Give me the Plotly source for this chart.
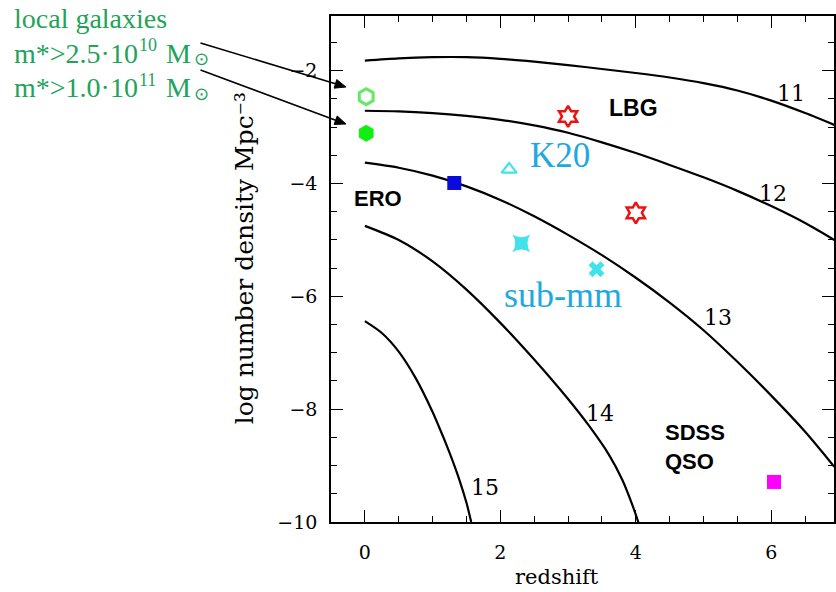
import math
import plotly.graph_objects as go

# Halo-mass abundance curves: log number density vs redshift, labelled by log M
curve_11_z = [0, 0.5, 1.0, 1.5, 2.0, 2.5, 3.0, 3.5, 4.0, 4.5, 5.0, 5.5, 6.0, 6.5, 6.93]
curve_11_n = [-1.82, -1.78, -1.76, -1.76, -1.79, -1.84, -1.90, -1.97, -2.04, -2.12, -2.22, -2.35, -2.53, -2.75, -2.96]

curve_12_z = [0, 0.5, 1.0, 1.5, 2.0, 2.5, 3.0, 3.5, 4.0, 4.5, 5.0, 5.5, 6.0, 6.5, 6.93]
curve_12_n = [-2.71, -2.72, -2.75, -2.80, -2.87, -2.97, -3.10, -3.27, -3.46, -3.67, -3.89, -4.13, -4.40, -4.70, -5.00]

curve_13_z = [0, 0.5, 1.0, 1.5, 2.0, 2.5, 3.0, 3.5, 4.0, 4.5, 5.0, 5.5, 6.0, 6.5, 6.93]
curve_13_n = [-3.63, -3.72, -3.86, -4.05, -4.29, -4.58, -4.91, -5.27, -5.67, -6.11, -6.60, -7.16, -7.76, -8.40, -9.02]

curve_14_z = [0, 0.5, 1.0, 1.5, 2.0, 2.5, 3.0, 3.3, 3.6, 3.8, 3.95, 4.05]
curve_14_n = [-4.75, -5.00, -5.38, -5.88, -6.47, -7.12, -7.82, -8.28, -8.80, -9.25, -9.70, -10.05]

curve_15_z = [0, 0.25, 0.5, 0.75, 1.0, 1.1, 1.2, 1.3, 1.4, 1.5, 1.57]
curve_15_n = [-6.44, -6.65, -6.98, -7.45, -8.05, -8.33, -8.62, -8.93, -9.27, -9.66, -10.0]

curve_labels = ["11", "12", "13", "14", "15"]
curve_label_z = [6.29, 6.03, 5.21, 3.47, 1.78]
curve_label_n = [-2.41, -4.17, -6.38, -8.07, -9.38]

# Observed populations
local_25_z, local_25_n = [0.02], [-2.46]     # local galaxies m* > 2.5e10
local_100_z, local_100_n = [0.02], [-3.11]   # local galaxies m* > 1.0e11
lbg_z, lbg_n = [3.0, 4.0], [-2.81, -4.52]
k20_z, k20_n = [2.13], [-3.75]
ero_z, ero_n = [1.32], [-3.99]
submm_a_z, submm_a_n = [2.31], [-5.06]
submm_b_z, submm_b_n = [3.42], [-5.52]
qso_z, qso_n = [6.04], [-9.29]

x_ticks = [0, 2, 4, 6]
y_ticks = [-10, -8, -6, -4, -2]

# stellar-mass thresholds of the local samples: mantissa and power of ten
mass_mantissa = ["2.5", "1.0"]
mass_exponent = ["10", "11"]

SERIF = "DejaVu Serif"
SANS = "Liberation Sans"
TIMES = "Liberation Serif"
GREEN_TXT = "#22A35A"
CYAN_TXT = "#22A8E0"
CYAN = "#40E2EC"

fig = go.Figure()

for zs, ns in [(curve_11_z, curve_11_n), (curve_12_z, curve_12_n), (curve_13_z, curve_13_n),
               (curve_14_z, curve_14_n), (curve_15_z, curve_15_n)]:
    fig.add_trace(go.Scatter(x=zs, y=ns, mode="lines",
                             line=dict(color="black", width=2.2, shape="spline", smoothing=0.8),
                             showlegend=False, hoverinfo="skip"))

def pts(x, y, symbol, size, color, lw=0, lc=None):
    fig.add_trace(go.Scatter(x=x, y=y, mode="markers", showlegend=False, cliponaxis=False,
                             marker=dict(symbol=symbol, size=size, color=color,
                                         line=dict(width=lw, color=lc or color))))

pts(local_25_z, local_25_n, "hexagon-open", 16, "#66E866", 3)
pts(local_100_z, local_100_n, "hexagon", 17, "#11EE11")
pts(lbg_z, lbg_n, "hexagram-open", 16, "#EE1111", 2.5)
pts(k20_z, k20_n, "triangle-up-open", 13, CYAN, 2.2)
pts(ero_z, ero_n, "square", 14, "#0A0ADD")
pts(submm_a_z, submm_a_n, "star-square", 16, CYAN)
pts(submm_b_z, submm_b_n, "x", 14, CYAN)
pts(qso_z, qso_n, "square", 14, "#FF00FF")

# plot-area pixel geometry, used to place items outside the axes in paper units
PX_LEFT, PX_W, PX_BOTTOM, PX_H = 331, 505, 522, 506

def paper_x(px):
    return (px - PX_LEFT) / PX_W

def paper_y(py):
    return (PX_BOTTOM - py) / PX_H

ann = []
for t, zx, ny in zip(curve_labels, curve_label_z, curve_label_n):
    ann.append(dict(x=zx, y=ny, text=t, showarrow=False,
                    font=dict(family=SERIF, size=22, color="black")))

bold_black = dict(family=SANS, size=22, color="black", weight="bold")
ann += [
    dict(x=3.96, y=-2.66, text="LBG", showarrow=False, font={**bold_black, "size": 23}),
    dict(x=0.19, y=-4.26, text="ERO", showarrow=False, font=bold_black),
    dict(x=4.40, y=-8.42, text="SDSS", showarrow=False, xanchor="left", font=bold_black),
    dict(x=4.40, y=-8.92, text="QSO", showarrow=False, xanchor="left", font=bold_black),
    dict(x=2.88, y=-3.51, text="K20", showarrow=False,
         font=dict(family=TIMES, size=35, color=CYAN_TXT)),
    dict(x=2.93, y=-5.98, text="sub-mm", showarrow=False,
         font=dict(family=TIMES, size=36, color=CYAN_TXT)),
]

def green_text(px, py, txt, size=28):
    ann.append(dict(x=paper_x(px), y=paper_y(py), xref="paper", yref="paper", text=txt,
                    showarrow=False, xanchor="left", yanchor="middle", borderpad=0,
                    font=dict(family=TIMES, size=size, color=GREEN_TXT)))

# local-galaxy legend, top left outside the axes
green_text(12, 19, "local galaxies")
for mant, expo, py in zip(mass_mantissa, mass_exponent, [53, 88]):
    green_text(12, py, "m*>" + mant + "·10")
    green_text(137, py - 8, expo, size=18)      # power of ten, raised
    green_text(164, py, "M")
    green_text(192, py + 6, "⊙", size=18)       # solar symbol, lowered

# axis titles
ann.append(dict(x=paper_x(244), y=paper_y(258), xref="paper", yref="paper",
                text="log number density Mpc⁻³", textangle=-90, showarrow=False,
                xanchor="center", yanchor="middle",
                font=dict(family=SERIF, size=25, color="black")))
ann.append(dict(x=paper_x(558), y=paper_y(577), xref="paper", yref="paper",
                text="redshift", showarrow=False, xanchor="center", yanchor="middle",
                font=dict(family=SERIF, size=21, color="black")))

# pointer arrows from the legend lines to the local-galaxy symbols
shapes = []
arrows_px = [((200, 43), (346, 87)), ((200, 70), (346, 124))]
for (tx, ty), (hx, hy) in arrows_px:
    dx, dy = hx - tx, hy - ty
    L = math.hypot(dx, dy)
    ux, uy = dx / L, dy / L
    head_len, head_half = 11, 4.5
    bx, by = hx - head_len * ux, hy - head_len * uy
    shapes.append(dict(type="line", xref="paper", yref="paper",
                       x0=paper_x(tx), y0=paper_y(ty), x1=paper_x(bx), y1=paper_y(by),
                       line=dict(color="black", width=1.6)))
    c1 = (bx - head_half * uy, by + head_half * ux)
    c2 = (bx + head_half * uy, by - head_half * ux)
    path = "M {:.5f},{:.5f} L {:.5f},{:.5f} L {:.5f},{:.5f} Z".format(
        paper_x(hx), paper_y(hy), paper_x(c1[0]), paper_y(c1[1]), paper_x(c2[0]), paper_y(c2[1]))
    shapes.append(dict(type="path", xref="paper", yref="paper", path=path,
                       fillcolor="black", line=dict(color="black", width=1)))

axis_common = dict(showline=True, linecolor="black", linewidth=1.5, mirror="ticks",
                   ticks="inside", ticklen=12, tickwidth=1.3, tickcolor="black",
                   showgrid=False, zeroline=False,
                   tickfont=dict(family=SERIF, size=19, color="black"),
                   minor=dict(dtick=0.5, ticks="inside", ticklen=6, tickwidth=1.1,
                              tickcolor="black", showgrid=False))

fig.update_layout(
    width=836, height=592,
    margin=dict(l=331, r=0, t=16, b=70),
    paper_bgcolor="white", plot_bgcolor="white",
    showlegend=False,
    annotations=ann,
    shapes=shapes,
    xaxis=dict(range=[-0.5, 6.926], tickvals=x_ticks, ticklabelstandoff=12, **axis_common),
    yaxis=dict(range=[-10, -1.03], tickvals=y_ticks, ticklabelstandoff=8, **axis_common),
)

fig.write_html("out.html")
